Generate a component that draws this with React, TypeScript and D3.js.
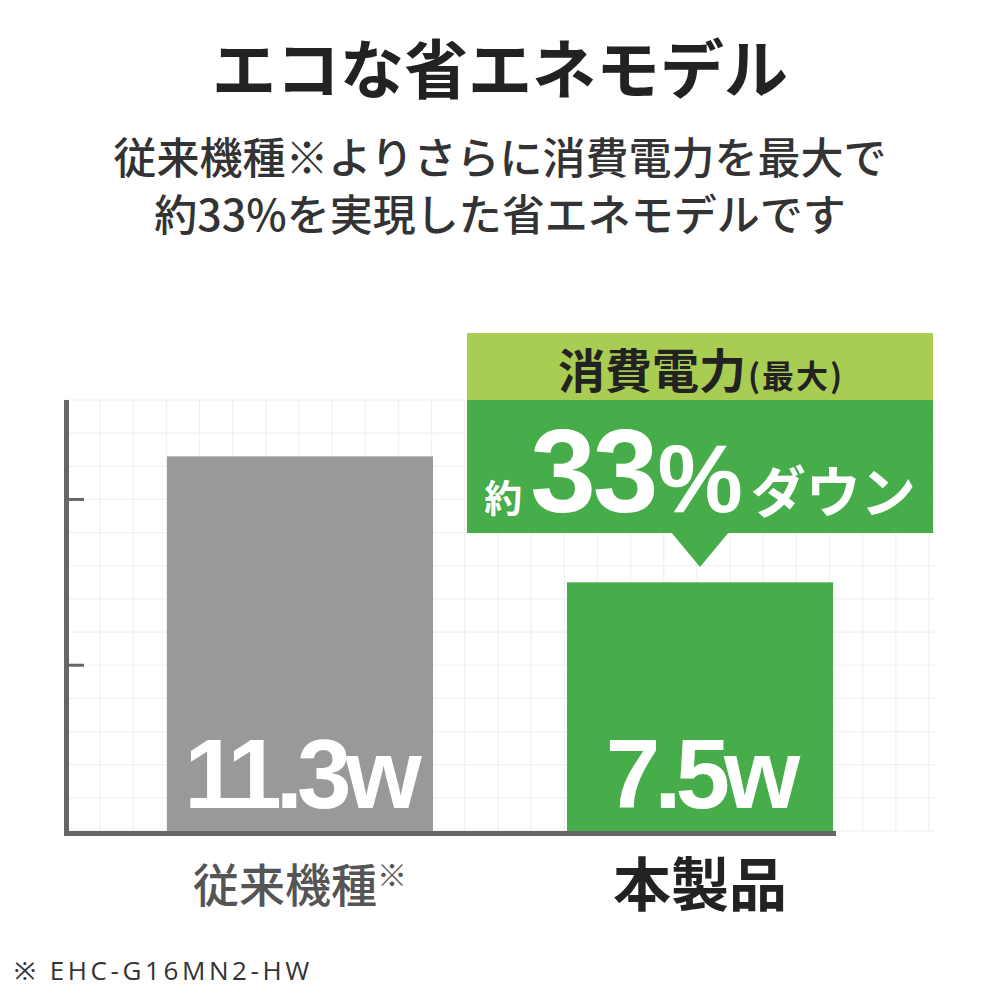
import React from "react";
import * as d3 from "d3";

const categories = ["従来機種", "本製品"];
const values = [11.3, 7.5];
const valueLabels = ["11.3w", "7.5w"];
const yTicks = [5, 10];
const yMax = 13;
const title = "エコな省エネモデル";
const subtitleLines = ["従来機種※よりさらに消費電力を最大で", "約33%を実現した省エネモデルです"];
const footnote = "※ EHC-G16MN2-HW";

const JP = "'Noto Sans CJK JP', 'Noto Sans', sans-serif";
const NUM = "'Liberation Sans', Arial, sans-serif";

export default function App() {
  const y = d3.scaleLinear().domain([0, yMax]).range([831, 400]);
  const x = d3
    .scaleBand<string>()
    .domain(categories)
    .range([100, 900])
    .paddingInner(0.335)
    .paddingOuter(0.1675);
  const unit = y(0) - y(1);
  const gridH = d3.range(0, yMax + 1).map((v) => y(v));
  const gridV = d3.range(0, 27).map((i) => 67 + i * unit).filter((v) => v <= 935);
  const barColors = ["#999999", "#46ad4a"];

  return (
    <svg width={1000} height={1000} style={{ position: "absolute", left: 0, top: 0, background: "#fff" }}>
      <rect width={1000} height={1000} fill="#fff" />
      {/* grid */}
      <g stroke="#f0f0f0" strokeWidth={1.2}>
        {gridH.map((gy, i) => (
          <line key={"h" + i} x1={67} x2={935} y1={gy} y2={gy} />
        ))}
        {gridV.map((gx, i) => (
          <line key={"v" + i} x1={gx} x2={gx} y1={400} y2={831} />
        ))}
      </g>
      {/* title */}
      <text x={500} y={93} textAnchor="middle" fontFamily={JP} fontWeight={700} fontSize={64} fill="#222">
        {title}
      </text>
      {subtitleLines.map((t, i) => (
        <text key={i} x={500} y={174 + i * 57} textAnchor="middle" fontFamily={JP} fontWeight={500} fontSize={43} fill="#333">
          {t}
        </text>
      ))}
      {/* bars */}
      {categories.map((c, i) => (
        <rect key={c} x={x(c)} y={y(values[i])} width={x.bandwidth()} height={y(0) - y(values[i])} fill={barColors[i]} />
      ))}
      {categories.map((c, i) => (
        <text
          key={"l" + c}
          x={(x(c) as number) + x.bandwidth() / 2}
          y={808}
          textAnchor="middle"
          fontFamily={NUM}
          fontWeight={700}
          fontSize={98}
          letterSpacing={-6}
          fill="#fff"
        >
          {valueLabels[i]}
        </text>
      ))}
      {/* axes */}
      <line x1={66.5} x2={66.5} y1={400} y2={836} stroke="#666" strokeWidth={5} />
      <line x1={64} x2={836} y1={833.5} y2={833.5} stroke="#666" strokeWidth={5} />
      {yTicks.map((t) => (
        <line key={t} x1={68} x2={84} y1={y(t)} y2={y(t)} stroke="#666" strokeWidth={3} />
      ))}
      {/* category labels */}
      <text x={(x(categories[0]) as number) + x.bandwidth() / 2} y={902} textAnchor="middle" fontFamily={JP} fontWeight={500} fontSize={46} fill="#555">
        {categories[0]}
        <tspan fontSize={30} dy={-16}>※</tspan>
      </text>
      <text x={(x(categories[1]) as number) + x.bandwidth() / 2} y={906} textAnchor="middle" fontFamily={JP} fontWeight={700} fontSize={58} fill="#222">
        {categories[1]}
      </text>
      {/* callout */}
      <rect x={467} y={333} width={466} height={67} fill="#a9cc53" />
      <rect x={467} y={400} width={466} height={133} fill="#46ad4a" />
      <path d="M671,532 L729,532 L700,567 Z" fill="#46ad4a" />
      <text x={701} y={388} textAnchor="middle" fontFamily={JP} fontWeight={700} fill="#222">
        <tspan fontSize={47}>消費電力</tspan>
        <tspan fontSize={32} letterSpacing={2} dx={2}>(最大)</tspan>
      </text>
      <text x={700} y={512} textAnchor="middle" fill="#fff" fontWeight={700}>
        <tspan fontFamily={JP} fontSize={38}>約</tspan>
        <tspan fontFamily={NUM} fontSize={118} letterSpacing={-3} dx={8}>33</tspan>
        <tspan fontFamily={NUM} fontSize={96} dx={2}>%</tspan>
        <tspan fontFamily={JP} fontSize={55} dx={8}>ダウン</tspan>
      </text>
      {/* footnote */}
      <text x={14} y={980} fontFamily="'Open Sans', 'Noto Sans', sans-serif" fontSize={26} letterSpacing={3.6} fill="#333">
        {footnote}
      </text>
    </svg>
  );
}
